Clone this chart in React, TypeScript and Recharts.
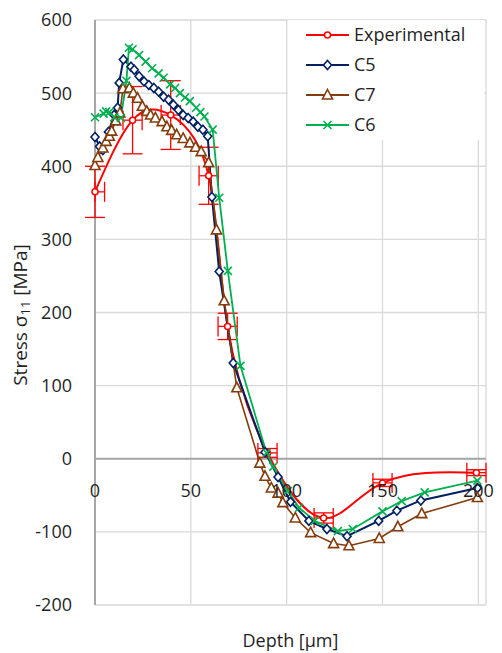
import { CartesianGrid, ComposedChart, ErrorBar, Legend, Line, ReferenceLine, Scatter, XAxis, YAxis } from 'recharts';

const depthTicks = [0, 50, 100, 150, 200];
const stressTicks = [-200, -100, 0, 100, 200, 300, 400, 500, 600];

// experimental points with error bars
const expDepth = [0, 19.6, 39.5, 59.3, 69.2, 90, 119.3, 150, 199];
const expStress = [365, 463, 470, 387, 181, 8, -81, -33, -19];
const expErrDepth = [[0, 5], [5, 5], [5, 5], [5, 5], [5, 5], [5, 5], [5, 5], [5, 5], [5, 5]];
const expErrStress = [35, 46, 47, 39, 18, 6, 7, 5, 4];

const c5Depth = [0, 2.4, 4.1, 7, 10, 11.8, 12.6, 14.8, 18.8, 20.5, 23, 25.6, 28.1, 30.7, 33.2, 35.8, 38.4, 40.9, 43.5, 46, 48.6, 51.2, 53.7, 56.3, 58.8, 61, 64.8, 72.1, 88.7, 95.5, 102, 111.6, 121, 131.5, 148, 157.5, 170, 199.5];
const c5Stress = [440, 427, 422, 447, 470, 480, 514, 546, 536, 532, 523, 516, 511, 507, 502, 495, 491, 484, 477, 470, 466, 461, 454, 450, 441, 358, 256, 131, 9, -25, -59, -85, -96, -106, -85, -71, -57, -40];

const c7Depth = [0, 1.5, 4.1, 5.8, 7.5, 8.7, 10.8, 13, 14.6, 17.9, 20, 22.2, 24.7, 27, 29, 31.5, 35, 37.5, 40, 42.6, 46, 49.5, 52.5, 55.4, 59.3, 63.4, 67.4, 74, 86, 88.7, 92, 95.5, 98, 104.5, 112.5, 124.5, 132.5, 148.3, 158, 170.5, 199.5];
const c7Stress = [401, 412, 425, 434, 441, 448, 462, 473, 506, 507, 500, 493, 482, 475, 470, 466, 461, 454, 449, 443, 438, 432, 426, 420, 405, 313, 216, 97, -6, -24, -40, -47, -60, -81, -101, -116, -119, -109, -93, -75, -53];

const c6Depth = [0, 4.5, 5.8, 7.5, 10, 13.5, 16.4, 17.7, 19.6, 23, 26.4, 29.8, 33.2, 35.8, 39.2, 41.8, 44.3, 47, 49.5, 52.8, 55, 57.1, 61.4, 64.8, 69.3, 75.9, 89.5, 93, 100.6, 106.5, 114.6, 126.7, 134.5, 150, 160, 172, 199.5];
const c6Stress = [467, 472, 475, 474, 467, 466, 517, 562, 560, 552, 543, 534, 527, 521, 512, 507, 500, 494, 489, 480, 474, 468, 450, 357, 257, 127, 8, -11, -44, -67, -85, -99, -96, -72, -58, -46, -30];

const toRows = (d: number[], s: number[]) => d.map((x, i) => ({ d: x, s: s[i] }));

const expRows = expDepth.map((x, i) => ({ d: x, s: expStress[i], ex: expErrDepth[i], ey: expErrStress[i] }));
const c5Rows = toRows(c5Depth, c5Stress);
const c7Rows = toRows(c7Depth, c7Stress);
const c6Rows = toRows(c6Depth, c6Stress);

const RED = '#FF0000';
const NAVY = '#002060';
const BROWN = '#843C0C';
const GREEN = '#00B050';
const FONT = '"Open Sans", sans-serif';
const TEXT = '#1f1f1f';

const Circle = ({ cx, cy }: any) => <circle cx={cx} cy={cy} r={3} fill="#fff" stroke={RED} strokeWidth={1.5} />;
const Diamond = ({ cx, cy }: any) => (
  <path d={`M${cx},${cy - 4.5}L${cx + 4},${cy}L${cx},${cy + 4.5}L${cx - 4},${cy}Z`} fill="#fff" stroke={NAVY} strokeWidth={1.6} />
);
const Triangle = ({ cx, cy }: any) => (
  <path d={`M${cx},${cy - 5.5}L${cx + 5},${cy + 4}L${cx - 5},${cy + 4}Z`} fill="#fff" stroke={BROWN} strokeWidth={1.6} />
);
const Cross = ({ cx, cy }: any) => (
  <path d={`M${cx - 4},${cy - 4}L${cx + 4},${cy + 4}M${cx + 4},${cy - 4}L${cx - 4},${cy + 4}`} stroke={GREEN} strokeWidth={1.6} />
);

const dotOf = (Shape: any) => (p: any) => {
  if (p.cx == null || p.cy == null) return <g key={p.index} />;
  return <Shape key={p.index} cx={p.cx} cy={p.cy} />;
};

const legendRows = [
  { name: 'Experimental', color: RED, Shape: Circle },
  { name: 'C5', color: NAVY, Shape: Diamond },
  { name: 'C7', color: BROWN, Shape: Triangle },
  { name: 'C6', color: GREEN, Shape: Cross },
];

function LegendBox() {
  return (
    <div style={{ background: '#fff', width: 196, height: 120 }}>
      <svg width={196} height={120}>
        {legendRows.map((r, i) => {
          const y = 15 + i * 30;
          return (
            <g key={r.name}>
              <line x1={18} x2={61} y1={y} y2={y} stroke={r.color} strokeWidth={2} />
              <r.Shape cx={39.5} cy={y} />
              <text x={66} y={y} dy="0.36em" fontSize={18} fontFamily={FONT} fill={TEXT}>{r.name}</text>
            </g>
          );
        })}
      </svg>
    </div>
  );
}

// x tick labels sit just under the zero line, not at the bottom of the plot
const XTick = ({ x, y, payload }: any) => (
  <text x={x} y={y} dy={-108} textAnchor="middle" fontSize={18} fontFamily={FONT} fill={TEXT}>{payload.value}</text>
);

const YTitle = () => (
  <text x={20} y={315} transform="rotate(-90, 20, 315)" textAnchor="middle" dominantBaseline="central" fontSize={19} fontFamily={FONT} fill={TEXT}>
    Stress  σ<tspan dy={5} fontSize={13}>11</tspan><tspan dy={-5}> [MPa]</tspan>
  </text>
);

export default function App() {
  return (
    <div style={{ position: 'relative', width: 502, height: 653, background: '#fff' }}>
      <style>{'body{margin:0}'}</style>
      <ComposedChart width={502} height={653} margin={{ top: 20, right: 16, bottom: 0, left: 20 }}>
        <CartesianGrid stroke="#D9D9D9" strokeWidth={1.3} />
        <XAxis
          dataKey="d"
          type="number"
          domain={[0, 200]}
          ticks={depthTicks}
          axisLine={false}
          tickLine={false}
          tickSize={0}
          tickMargin={0}
          height={48}
          tick={<XTick />}
          label={{ value: 'Depth [μm]', position: 'insideBottom', offset: 6, fontSize: 18, fontFamily: FONT, fill: TEXT }}
        />
        <YAxis
          type="number"
          domain={[-200, 600]}
          ticks={stressTicks}
          axisLine={false}
          tickLine={false}
          tickSize={0}
          tickMargin={23}
          width={75}
          tick={{ fontSize: 18, fontFamily: FONT, fill: TEXT }}
          label={<YTitle />}
        />
        <ReferenceLine y={0} stroke="#A6A6A6" strokeWidth={2} />
        <ReferenceLine x={0} stroke="#A6A6A6" strokeWidth={2} />
        <Legend
          layout="vertical"
          align="center"
          verticalAlign="middle"
          content={<LegendBox />}
          wrapperStyle={{ top: 20, left: 288, width: 196, height: 120 }}
        />
        <Line data={expRows} dataKey="s" type="natural" stroke={RED} strokeWidth={2} dot={false} activeDot={false} isAnimationActive={false} legendType="none" />
        <Scatter data={expRows} dataKey="s" shape={<Circle />} isAnimationActive={false} legendType="none">
          <ErrorBar dataKey="ey" direction="y" width={10} stroke={RED} strokeWidth={1.3} isAnimationActive={false} />
          <ErrorBar dataKey="ex" direction="x" width={10} stroke={RED} strokeWidth={1.3} isAnimationActive={false} />
        </Scatter>
        <Line data={c5Rows} dataKey="s" type="linear" stroke={NAVY} strokeWidth={2} dot={dotOf(Diamond)} activeDot={false} isAnimationActive={false} />
        <Line data={c7Rows} dataKey="s" type="linear" stroke={BROWN} strokeWidth={1.6} dot={dotOf(Triangle)} activeDot={false} isAnimationActive={false} />
        <Line data={c6Rows} dataKey="s" type="linear" stroke={GREEN} strokeWidth={1.8} dot={dotOf(Cross)} activeDot={false} isAnimationActive={false} />
      </ComposedChart>
    </div>
  );
}
